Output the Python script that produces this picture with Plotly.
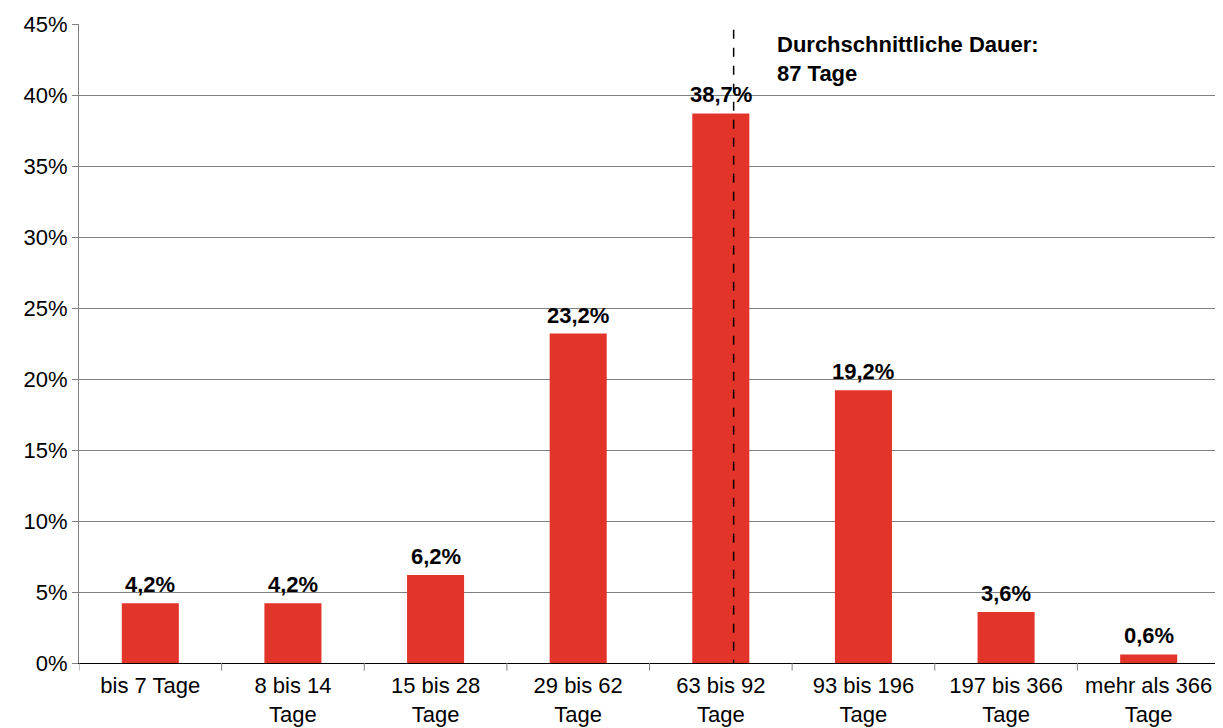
import plotly.graph_objects as go

categories = ["bis 7 Tage", "8 bis 14<br>Tage", "15 bis 28<br>Tage", "29 bis 62<br>Tage",
              "63 bis 92<br>Tage", "93 bis 196<br>Tage", "197 bis 366<br>Tage", "mehr als 366<br>Tage"]
values = [4.2, 4.2, 6.2, 23.2, 38.7, 19.2, 3.6, 0.6]
labels = ["4,2%", "4,2%", "6,2%", "23,2%", "38,7%", "19,2%", "3,6%", "0,6%"]
y_ticks = [0, 5, 10, 15, 20, 25, 30, 35, 40, 45]
y_ticktext = [f"{v}%" for v in y_ticks]
mean_pos = 4.09
mean_text = "Durchschnittliche Dauer:<br>87 Tage"

FONT = "Liberation Sans, Arial, sans-serif"

fig = go.Figure()
fig.add_trace(go.Bar(
    x=list(range(len(categories))), y=values, width=0.4,
    marker=dict(color="#E3342A", line=dict(width=0)),
))

for i, (v, t) in enumerate(zip(values, labels)):
    fig.add_annotation(xref="x", yref="y", x=i, y=v, yanchor="bottom", xanchor="center",
                       text="<b>" + t + "</b>", showarrow=False, yshift=4,
                       font=dict(family=FONT, size=22, color="black"))

fig.add_shape(type="line", xref="x", yref="y", x0=mean_pos, x1=mean_pos, y0=-0.4, y1=45,
              line=dict(color="black", width=1.5, dash="dash"))
fig.add_annotation(xref="x", yref="y", x=mean_pos + 0.29, y=45, xanchor="left", yanchor="top",
                   text="<b>" + mean_text + "</b>", showarrow=False, align="left", yshift=-6,
                   font=dict(family=FONT, size=22, color="black"))

fig.update_layout(
    width=1215, height=720,
    margin=dict(l=71, r=3, t=16, b=65),
    plot_bgcolor="white", paper_bgcolor="white",
    showlegend=False, bargap=0.6,
    font=dict(family=FONT, size=22, color="black"),
    xaxis=dict(tickmode="array", tickvals=list(range(len(categories))), ticktext=categories,
               range=[-0.5, 7.5], showgrid=False, showline=True, linecolor="black", linewidth=1,
               ticks="", tickfont=dict(size=22), mirror=False, automargin=False,
               ticklabelstandoff=3),
    yaxis=dict(range=[0, 45], tickvals=y_ticks, ticktext=y_ticktext, showgrid=True,
               gridcolor="#808080", gridwidth=1, showline=True, linecolor="#808080", linewidth=1,
               ticks="outside", ticklen=6, tickcolor="#808080", zeroline=False,
               tickfont=dict(size=22), automargin=False),
)

# category boundary ticks below the axis
for i in range(len(categories) + 1):
    fig.add_shape(type="line", xref="x", yref="paper", x0=i - 0.5, x1=i - 0.5, y0=0, y1=-0.012,
                  line=dict(color="#808080", width=1))
# right border
fig.add_shape(type="line", xref="paper", yref="paper", x0=1, x1=1, y0=0, y1=1,
              line=dict(color="#808080", width=1))

fig.write_html("out.html")
